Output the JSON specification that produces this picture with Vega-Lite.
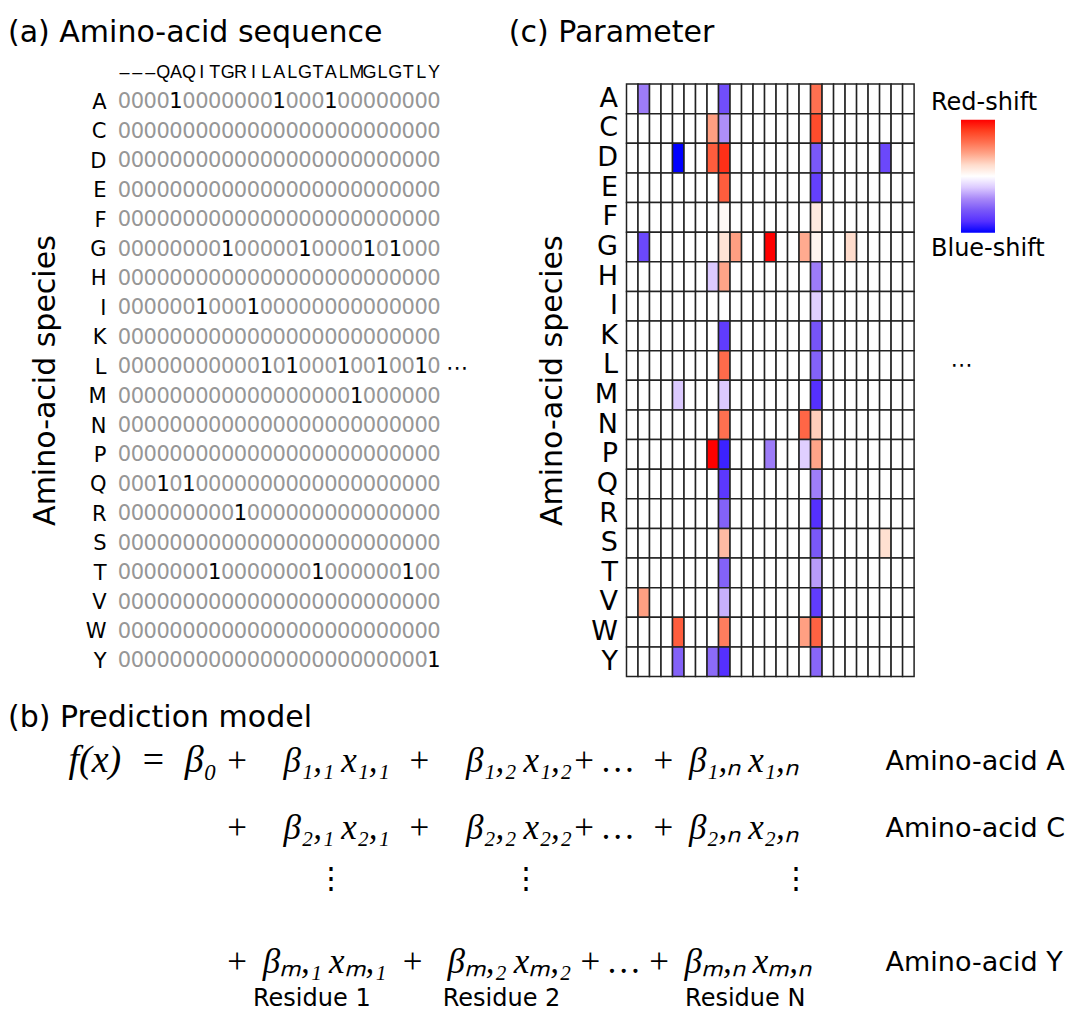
{
  "$schema": "https://vega.github.io/schema/vega-lite/v6.json",
  "background": "white",
  "autosize": {"type": "pad"},
  "padding": {"left": 8, "top": 18, "right": 0, "bottom": 0},
  "config": {
    "view": {"stroke": null},
    "font": "DejaVu Sans",
    "axis": {"domain": false, "ticks": false, "grid": false, "labelColor": "#000", "titleColor": "#000", "titleFontWeight": "normal", "labelFont": "DejaVu Sans", "titleFont": "DejaVu Sans"},
    "title": {"fontWeight": "normal", "color": "#000", "font": "DejaVu Sans"}
  },
  "datasets": {
    "seq": [
      {"c":1,"s":"–"},{"c":2,"s":"–"},{"c":3,"s":"–"},{"c":4,"s":"Q"},{"c":5,"s":"A"},{"c":6,"s":"Q"},{"c":7,"s":"I"},{"c":8,"s":"T"},{"c":9,"s":"G"},{"c":10,"s":"R"},{"c":11,"s":"I"},{"c":12,"s":"L"},{"c":13,"s":"A"},{"c":14,"s":"L"},{"c":15,"s":"G"},{"c":16,"s":"T"},{"c":17,"s":"A"},{"c":18,"s":"L"},{"c":19,"s":"M"},{"c":20,"s":"G"},{"c":21,"s":"L"},{"c":22,"s":"G"},{"c":23,"s":"T"},{"c":24,"s":"L"},{"c":25,"s":"Y"}
    ],
    "eq": [
      {"k":"l","line":"Amino-acid A","s":"plus","t":"f(x)\u2002=\u2002β₀"},
      {"k":"m","line":"Amino-acid A","s":"plus","t":"+\u2003β₁,₁\u2009x₁,₁\u2002+\u2003β₁,₂\u2009x₁,₂+\u2009…\u2002+\u2009\u2009β₁,ₙ\u2009x₁,ₙ"},
      {"k":"m","line":"Amino-acid C","s":"plus","t":"+\u2003β₂,₁\u2009x₂,₁\u2002+\u2003β₂,₂\u2009x₂,₂+\u2009…\u2002+\u2009\u2009β₂,ₙ\u2009x₂,ₙ"},
      {"k":"m","line":"Amino-acid Y","s":"plus","t":"+\u2009\u2009βₘ,₁\u2009xₘ,₁\u2009\u2009+\u2002\u2006βₘ,₂\u2009xₘ,₂\u2009+\u2009…\u2009+\u2009\u2009βₘ,ₙ\u2009xₘ,ₙ"},
      {"k":"v","line":"dots","s":"plus","t":"⋮\u2003\u2003\u2003\u2003\u2003\u2002⋮\u2003\u2003\u2003\u2003\u2003\u2003\u2003\u2003⋮"},
      {"k":"r","line":"Amino-acid Y","s":"plus","t":"Residue 1\u2003\u2003\u2003Residue 2\u2003\u2003\u2003\u2003\u2003\u2009Residue N"}
    ],
    "grid": [
      {"a":"A","c":1,"x":0,"v":0},{"a":"A","c":2,"x":0,"v":-0.45},{"a":"A","c":3,"x":0,"v":0},{"a":"A","c":4,"x":0,"v":0},{"a":"A","c":5,"x":1,"v":0},{"a":"A","c":6,"x":0,"v":0},{"a":"A","c":7,"x":0,"v":0},{"a":"A","c":8,"x":0,"v":0},{"a":"A","c":9,"x":0,"v":-0.65},{"a":"A","c":10,"x":0,"v":0},{"a":"A","c":11,"x":0,"v":0},{"a":"A","c":12,"x":0,"v":0},{"a":"A","c":13,"x":1,"v":0},{"a":"A","c":14,"x":0,"v":0},{"a":"A","c":15,"x":0,"v":0},{"a":"A","c":16,"x":0,"v":0},{"a":"A","c":17,"x":1,"v":0.6},{"a":"A","c":18,"x":0,"v":0},{"a":"A","c":19,"x":0,"v":0},{"a":"A","c":20,"x":0,"v":0},{"a":"A","c":21,"x":0,"v":0},{"a":"A","c":22,"x":0,"v":0},{"a":"A","c":23,"x":0,"v":0},{"a":"A","c":24,"x":0,"v":0},{"a":"A","c":25,"x":0,"v":0},
      {"a":"C","c":1,"x":0,"v":0},{"a":"C","c":2,"x":0,"v":0},{"a":"C","c":3,"x":0,"v":0},{"a":"C","c":4,"x":0,"v":0},{"a":"C","c":5,"x":0,"v":0},{"a":"C","c":6,"x":0,"v":0},{"a":"C","c":7,"x":0,"v":0},{"a":"C","c":8,"x":0,"v":0.42},{"a":"C","c":9,"x":0,"v":-0.38},{"a":"C","c":10,"x":0,"v":0},{"a":"C","c":11,"x":0,"v":0},{"a":"C","c":12,"x":0,"v":0},{"a":"C","c":13,"x":0,"v":0},{"a":"C","c":14,"x":0,"v":0},{"a":"C","c":15,"x":0,"v":0},{"a":"C","c":16,"x":0,"v":0},{"a":"C","c":17,"x":0,"v":0.75},{"a":"C","c":18,"x":0,"v":0},{"a":"C","c":19,"x":0,"v":0},{"a":"C","c":20,"x":0,"v":0},{"a":"C","c":21,"x":0,"v":0},{"a":"C","c":22,"x":0,"v":0},{"a":"C","c":23,"x":0,"v":0},{"a":"C","c":24,"x":0,"v":0},{"a":"C","c":25,"x":0,"v":0},
      {"a":"D","c":1,"x":0,"v":0},{"a":"D","c":2,"x":0,"v":0},{"a":"D","c":3,"x":0,"v":0},{"a":"D","c":4,"x":0,"v":0},{"a":"D","c":5,"x":0,"v":-1},{"a":"D","c":6,"x":0,"v":0},{"a":"D","c":7,"x":0,"v":0},{"a":"D","c":8,"x":0,"v":0.68},{"a":"D","c":9,"x":0,"v":0.85},{"a":"D","c":10,"x":0,"v":0},{"a":"D","c":11,"x":0,"v":0},{"a":"D","c":12,"x":0,"v":0},{"a":"D","c":13,"x":0,"v":0},{"a":"D","c":14,"x":0,"v":0},{"a":"D","c":15,"x":0,"v":0},{"a":"D","c":16,"x":0,"v":0},{"a":"D","c":17,"x":0,"v":-0.6},{"a":"D","c":18,"x":0,"v":0},{"a":"D","c":19,"x":0,"v":0},{"a":"D","c":20,"x":0,"v":0},{"a":"D","c":21,"x":0,"v":0},{"a":"D","c":22,"x":0,"v":0},{"a":"D","c":23,"x":0,"v":-0.68},{"a":"D","c":24,"x":0,"v":0},{"a":"D","c":25,"x":0,"v":0},
      {"a":"E","c":1,"x":0,"v":0},{"a":"E","c":2,"x":0,"v":0},{"a":"E","c":3,"x":0,"v":0},{"a":"E","c":4,"x":0,"v":0},{"a":"E","c":5,"x":0,"v":0},{"a":"E","c":6,"x":0,"v":0},{"a":"E","c":7,"x":0,"v":0},{"a":"E","c":8,"x":0,"v":0},{"a":"E","c":9,"x":0,"v":0.68},{"a":"E","c":10,"x":0,"v":0},{"a":"E","c":11,"x":0,"v":0},{"a":"E","c":12,"x":0,"v":0},{"a":"E","c":13,"x":0,"v":0},{"a":"E","c":14,"x":0,"v":0},{"a":"E","c":15,"x":0,"v":0},{"a":"E","c":16,"x":0,"v":0},{"a":"E","c":17,"x":0,"v":-0.72},{"a":"E","c":18,"x":0,"v":0},{"a":"E","c":19,"x":0,"v":0},{"a":"E","c":20,"x":0,"v":0},{"a":"E","c":21,"x":0,"v":0},{"a":"E","c":22,"x":0,"v":0},{"a":"E","c":23,"x":0,"v":0},{"a":"E","c":24,"x":0,"v":0},{"a":"E","c":25,"x":0,"v":0},
      {"a":"F","c":1,"x":0,"v":0},{"a":"F","c":2,"x":0,"v":0},{"a":"F","c":3,"x":0,"v":0},{"a":"F","c":4,"x":0,"v":0},{"a":"F","c":5,"x":0,"v":0},{"a":"F","c":6,"x":0,"v":0},{"a":"F","c":7,"x":0,"v":0},{"a":"F","c":8,"x":0,"v":0},{"a":"F","c":9,"x":0,"v":0.04},{"a":"F","c":10,"x":0,"v":0},{"a":"F","c":11,"x":0,"v":0},{"a":"F","c":12,"x":0,"v":0},{"a":"F","c":13,"x":0,"v":0},{"a":"F","c":14,"x":0,"v":0},{"a":"F","c":15,"x":0,"v":0},{"a":"F","c":16,"x":0,"v":0},{"a":"F","c":17,"x":0,"v":0.12},{"a":"F","c":18,"x":0,"v":0},{"a":"F","c":19,"x":0,"v":0},{"a":"F","c":20,"x":0,"v":0},{"a":"F","c":21,"x":0,"v":0},{"a":"F","c":22,"x":0,"v":0},{"a":"F","c":23,"x":0,"v":0},{"a":"F","c":24,"x":0,"v":0},{"a":"F","c":25,"x":0,"v":0},
      {"a":"G","c":1,"x":0,"v":0},{"a":"G","c":2,"x":0,"v":-0.68},{"a":"G","c":3,"x":0,"v":0},{"a":"G","c":4,"x":0,"v":0},{"a":"G","c":5,"x":0,"v":0},{"a":"G","c":6,"x":0,"v":0},{"a":"G","c":7,"x":0,"v":0},{"a":"G","c":8,"x":0,"v":0},{"a":"G","c":9,"x":1,"v":0.16},{"a":"G","c":10,"x":0,"v":0.42},{"a":"G","c":11,"x":0,"v":0},{"a":"G","c":12,"x":0,"v":0},{"a":"G","c":13,"x":0,"v":1},{"a":"G","c":14,"x":0,"v":0},{"a":"G","c":15,"x":1,"v":0},{"a":"G","c":16,"x":0,"v":0.38},{"a":"G","c":17,"x":0,"v":0.06},{"a":"G","c":18,"x":0,"v":0},{"a":"G","c":19,"x":0,"v":0},{"a":"G","c":20,"x":1,"v":0.2},{"a":"G","c":21,"x":0,"v":0},{"a":"G","c":22,"x":1,"v":0},{"a":"G","c":23,"x":0,"v":0},{"a":"G","c":24,"x":0,"v":0},{"a":"G","c":25,"x":0,"v":0},
      {"a":"H","c":1,"x":0,"v":0},{"a":"H","c":2,"x":0,"v":0},{"a":"H","c":3,"x":0,"v":0},{"a":"H","c":4,"x":0,"v":0},{"a":"H","c":5,"x":0,"v":0},{"a":"H","c":6,"x":0,"v":0},{"a":"H","c":7,"x":0,"v":0},{"a":"H","c":8,"x":0,"v":-0.2},{"a":"H","c":9,"x":0,"v":0.4},{"a":"H","c":10,"x":0,"v":0},{"a":"H","c":11,"x":0,"v":0},{"a":"H","c":12,"x":0,"v":0},{"a":"H","c":13,"x":0,"v":0},{"a":"H","c":14,"x":0,"v":0},{"a":"H","c":15,"x":0,"v":0},{"a":"H","c":16,"x":0,"v":0},{"a":"H","c":17,"x":0,"v":-0.45},{"a":"H","c":18,"x":0,"v":0},{"a":"H","c":19,"x":0,"v":0},{"a":"H","c":20,"x":0,"v":0},{"a":"H","c":21,"x":0,"v":0},{"a":"H","c":22,"x":0,"v":0},{"a":"H","c":23,"x":0,"v":0},{"a":"H","c":24,"x":0,"v":0},{"a":"H","c":25,"x":0,"v":0},
      {"a":"I","c":1,"x":0,"v":0},{"a":"I","c":2,"x":0,"v":0},{"a":"I","c":3,"x":0,"v":0},{"a":"I","c":4,"x":0,"v":0},{"a":"I","c":5,"x":0,"v":0},{"a":"I","c":6,"x":0,"v":0},{"a":"I","c":7,"x":1,"v":0},{"a":"I","c":8,"x":0,"v":0},{"a":"I","c":9,"x":0,"v":0},{"a":"I","c":10,"x":0,"v":0},{"a":"I","c":11,"x":1,"v":0},{"a":"I","c":12,"x":0,"v":0},{"a":"I","c":13,"x":0,"v":0},{"a":"I","c":14,"x":0,"v":0},{"a":"I","c":15,"x":0,"v":0},{"a":"I","c":16,"x":0,"v":0},{"a":"I","c":17,"x":0,"v":-0.18},{"a":"I","c":18,"x":0,"v":0},{"a":"I","c":19,"x":0,"v":0},{"a":"I","c":20,"x":0,"v":0},{"a":"I","c":21,"x":0,"v":0},{"a":"I","c":22,"x":0,"v":0},{"a":"I","c":23,"x":0,"v":0},{"a":"I","c":24,"x":0,"v":0},{"a":"I","c":25,"x":0,"v":0},
      {"a":"K","c":1,"x":0,"v":0},{"a":"K","c":2,"x":0,"v":0},{"a":"K","c":3,"x":0,"v":0},{"a":"K","c":4,"x":0,"v":0},{"a":"K","c":5,"x":0,"v":0},{"a":"K","c":6,"x":0,"v":0},{"a":"K","c":7,"x":0,"v":0},{"a":"K","c":8,"x":0,"v":0},{"a":"K","c":9,"x":0,"v":-0.74},{"a":"K","c":10,"x":0,"v":0},{"a":"K","c":11,"x":0,"v":0},{"a":"K","c":12,"x":0,"v":0},{"a":"K","c":13,"x":0,"v":0},{"a":"K","c":14,"x":0,"v":0},{"a":"K","c":15,"x":0,"v":0},{"a":"K","c":16,"x":0,"v":0},{"a":"K","c":17,"x":0,"v":-0.62},{"a":"K","c":18,"x":0,"v":0},{"a":"K","c":19,"x":0,"v":0},{"a":"K","c":20,"x":0,"v":0},{"a":"K","c":21,"x":0,"v":0},{"a":"K","c":22,"x":0,"v":0},{"a":"K","c":23,"x":0,"v":0},{"a":"K","c":24,"x":0,"v":0},{"a":"K","c":25,"x":0,"v":0},
      {"a":"L","c":1,"x":0,"v":0},{"a":"L","c":2,"x":0,"v":0},{"a":"L","c":3,"x":0,"v":0},{"a":"L","c":4,"x":0,"v":0},{"a":"L","c":5,"x":0,"v":0},{"a":"L","c":6,"x":0,"v":0},{"a":"L","c":7,"x":0,"v":0},{"a":"L","c":8,"x":0,"v":0},{"a":"L","c":9,"x":0,"v":0.62},{"a":"L","c":10,"x":0,"v":0},{"a":"L","c":11,"x":0,"v":0},{"a":"L","c":12,"x":1,"v":0},{"a":"L","c":13,"x":0,"v":0},{"a":"L","c":14,"x":1,"v":0},{"a":"L","c":15,"x":0,"v":0},{"a":"L","c":16,"x":0,"v":0},{"a":"L","c":17,"x":0,"v":-0.56},{"a":"L","c":18,"x":1,"v":0},{"a":"L","c":19,"x":0,"v":0},{"a":"L","c":20,"x":0,"v":0},{"a":"L","c":21,"x":1,"v":0},{"a":"L","c":22,"x":0,"v":0},{"a":"L","c":23,"x":0,"v":0},{"a":"L","c":24,"x":1,"v":0},{"a":"L","c":25,"x":0,"v":0},
      {"a":"M","c":1,"x":0,"v":0},{"a":"M","c":2,"x":0,"v":0},{"a":"M","c":3,"x":0,"v":0},{"a":"M","c":4,"x":0,"v":0},{"a":"M","c":5,"x":0,"v":-0.2},{"a":"M","c":6,"x":0,"v":0},{"a":"M","c":7,"x":0,"v":0},{"a":"M","c":8,"x":0,"v":0},{"a":"M","c":9,"x":0,"v":-0.2},{"a":"M","c":10,"x":0,"v":0},{"a":"M","c":11,"x":0,"v":0},{"a":"M","c":12,"x":0,"v":0},{"a":"M","c":13,"x":0,"v":0},{"a":"M","c":14,"x":0,"v":0},{"a":"M","c":15,"x":0,"v":0},{"a":"M","c":16,"x":0,"v":0},{"a":"M","c":17,"x":0,"v":-0.8},{"a":"M","c":18,"x":0,"v":0},{"a":"M","c":19,"x":1,"v":0},{"a":"M","c":20,"x":0,"v":0},{"a":"M","c":21,"x":0,"v":0},{"a":"M","c":22,"x":0,"v":0},{"a":"M","c":23,"x":0,"v":0},{"a":"M","c":24,"x":0,"v":0},{"a":"M","c":25,"x":0,"v":0},
      {"a":"N","c":1,"x":0,"v":0},{"a":"N","c":2,"x":0,"v":0},{"a":"N","c":3,"x":0,"v":0},{"a":"N","c":4,"x":0,"v":0},{"a":"N","c":5,"x":0,"v":0},{"a":"N","c":6,"x":0,"v":0},{"a":"N","c":7,"x":0,"v":0},{"a":"N","c":8,"x":0,"v":0},{"a":"N","c":9,"x":0,"v":0.6},{"a":"N","c":10,"x":0,"v":0},{"a":"N","c":11,"x":0,"v":0},{"a":"N","c":12,"x":0,"v":0},{"a":"N","c":13,"x":0,"v":0},{"a":"N","c":14,"x":0,"v":0},{"a":"N","c":15,"x":0,"v":0},{"a":"N","c":16,"x":0,"v":0.64},{"a":"N","c":17,"x":0,"v":0.25},{"a":"N","c":18,"x":0,"v":0},{"a":"N","c":19,"x":0,"v":0},{"a":"N","c":20,"x":0,"v":0},{"a":"N","c":21,"x":0,"v":0},{"a":"N","c":22,"x":0,"v":0},{"a":"N","c":23,"x":0,"v":0},{"a":"N","c":24,"x":0,"v":0},{"a":"N","c":25,"x":0,"v":0},
      {"a":"P","c":1,"x":0,"v":0},{"a":"P","c":2,"x":0,"v":0},{"a":"P","c":3,"x":0,"v":0},{"a":"P","c":4,"x":0,"v":0},{"a":"P","c":5,"x":0,"v":0},{"a":"P","c":6,"x":0,"v":0},{"a":"P","c":7,"x":0,"v":0},{"a":"P","c":8,"x":0,"v":1},{"a":"P","c":9,"x":0,"v":-0.86},{"a":"P","c":10,"x":0,"v":0},{"a":"P","c":11,"x":0,"v":0},{"a":"P","c":12,"x":0,"v":0},{"a":"P","c":13,"x":0,"v":-0.45},{"a":"P","c":14,"x":0,"v":0},{"a":"P","c":15,"x":0,"v":0},{"a":"P","c":16,"x":0,"v":-0.18},{"a":"P","c":17,"x":0,"v":0.4},{"a":"P","c":18,"x":0,"v":0},{"a":"P","c":19,"x":0,"v":0},{"a":"P","c":20,"x":0,"v":0},{"a":"P","c":21,"x":0,"v":0},{"a":"P","c":22,"x":0,"v":0},{"a":"P","c":23,"x":0,"v":0},{"a":"P","c":24,"x":0,"v":0},{"a":"P","c":25,"x":0,"v":0},
      {"a":"Q","c":1,"x":0,"v":0},{"a":"Q","c":2,"x":0,"v":0},{"a":"Q","c":3,"x":0,"v":0},{"a":"Q","c":4,"x":1,"v":0},{"a":"Q","c":5,"x":0,"v":0},{"a":"Q","c":6,"x":1,"v":0},{"a":"Q","c":7,"x":0,"v":0},{"a":"Q","c":8,"x":0,"v":0},{"a":"Q","c":9,"x":0,"v":-0.76},{"a":"Q","c":10,"x":0,"v":0},{"a":"Q","c":11,"x":0,"v":0},{"a":"Q","c":12,"x":0,"v":0},{"a":"Q","c":13,"x":0,"v":0},{"a":"Q","c":14,"x":0,"v":0},{"a":"Q","c":15,"x":0,"v":0},{"a":"Q","c":16,"x":0,"v":0},{"a":"Q","c":17,"x":0,"v":-0.44},{"a":"Q","c":18,"x":0,"v":0},{"a":"Q","c":19,"x":0,"v":0},{"a":"Q","c":20,"x":0,"v":0},{"a":"Q","c":21,"x":0,"v":0},{"a":"Q","c":22,"x":0,"v":0},{"a":"Q","c":23,"x":0,"v":0},{"a":"Q","c":24,"x":0,"v":0},{"a":"Q","c":25,"x":0,"v":0},
      {"a":"R","c":1,"x":0,"v":0},{"a":"R","c":2,"x":0,"v":0},{"a":"R","c":3,"x":0,"v":0},{"a":"R","c":4,"x":0,"v":0},{"a":"R","c":5,"x":0,"v":0},{"a":"R","c":6,"x":0,"v":0},{"a":"R","c":7,"x":0,"v":0},{"a":"R","c":8,"x":0,"v":0},{"a":"R","c":9,"x":0,"v":-0.56},{"a":"R","c":10,"x":1,"v":0},{"a":"R","c":11,"x":0,"v":0},{"a":"R","c":12,"x":0,"v":0},{"a":"R","c":13,"x":0,"v":0},{"a":"R","c":14,"x":0,"v":0},{"a":"R","c":15,"x":0,"v":0},{"a":"R","c":16,"x":0,"v":0},{"a":"R","c":17,"x":0,"v":-0.8},{"a":"R","c":18,"x":0,"v":0},{"a":"R","c":19,"x":0,"v":0},{"a":"R","c":20,"x":0,"v":0},{"a":"R","c":21,"x":0,"v":0},{"a":"R","c":22,"x":0,"v":0},{"a":"R","c":23,"x":0,"v":0},{"a":"R","c":24,"x":0,"v":0},{"a":"R","c":25,"x":0,"v":0},
      {"a":"S","c":1,"x":0,"v":0},{"a":"S","c":2,"x":0,"v":0},{"a":"S","c":3,"x":0,"v":0},{"a":"S","c":4,"x":0,"v":0},{"a":"S","c":5,"x":0,"v":0},{"a":"S","c":6,"x":0,"v":0},{"a":"S","c":7,"x":0,"v":0},{"a":"S","c":8,"x":0,"v":0},{"a":"S","c":9,"x":0,"v":0.32},{"a":"S","c":10,"x":0,"v":0},{"a":"S","c":11,"x":0,"v":0},{"a":"S","c":12,"x":0,"v":0},{"a":"S","c":13,"x":0,"v":0},{"a":"S","c":14,"x":0,"v":0},{"a":"S","c":15,"x":0,"v":0},{"a":"S","c":16,"x":0,"v":0},{"a":"S","c":17,"x":0,"v":-0.6},{"a":"S","c":18,"x":0,"v":0},{"a":"S","c":19,"x":0,"v":0},{"a":"S","c":20,"x":0,"v":0},{"a":"S","c":21,"x":0,"v":0},{"a":"S","c":22,"x":0,"v":0},{"a":"S","c":23,"x":0,"v":0.18},{"a":"S","c":24,"x":0,"v":0},{"a":"S","c":25,"x":0,"v":0},
      {"a":"T","c":1,"x":0,"v":0},{"a":"T","c":2,"x":0,"v":0},{"a":"T","c":3,"x":0,"v":0},{"a":"T","c":4,"x":0,"v":0},{"a":"T","c":5,"x":0,"v":0},{"a":"T","c":6,"x":0,"v":0},{"a":"T","c":7,"x":0,"v":0},{"a":"T","c":8,"x":1,"v":0},{"a":"T","c":9,"x":0,"v":-0.56},{"a":"T","c":10,"x":0,"v":0},{"a":"T","c":11,"x":0,"v":0},{"a":"T","c":12,"x":0,"v":0},{"a":"T","c":13,"x":0,"v":0},{"a":"T","c":14,"x":0,"v":0},{"a":"T","c":15,"x":0,"v":0},{"a":"T","c":16,"x":1,"v":0},{"a":"T","c":17,"x":0,"v":-0.34},{"a":"T","c":18,"x":0,"v":0},{"a":"T","c":19,"x":0,"v":0},{"a":"T","c":20,"x":0,"v":0},{"a":"T","c":21,"x":0,"v":0},{"a":"T","c":22,"x":0,"v":0},{"a":"T","c":23,"x":1,"v":0},{"a":"T","c":24,"x":0,"v":0},{"a":"T","c":25,"x":0,"v":0},
      {"a":"V","c":1,"x":0,"v":0},{"a":"V","c":2,"x":0,"v":0.42},{"a":"V","c":3,"x":0,"v":0},{"a":"V","c":4,"x":0,"v":0},{"a":"V","c":5,"x":0,"v":0},{"a":"V","c":6,"x":0,"v":0},{"a":"V","c":7,"x":0,"v":0},{"a":"V","c":8,"x":0,"v":0},{"a":"V","c":9,"x":0,"v":-0.28},{"a":"V","c":10,"x":0,"v":0},{"a":"V","c":11,"x":0,"v":0},{"a":"V","c":12,"x":0,"v":0},{"a":"V","c":13,"x":0,"v":0},{"a":"V","c":14,"x":0,"v":0},{"a":"V","c":15,"x":0,"v":0},{"a":"V","c":16,"x":0,"v":0},{"a":"V","c":17,"x":0,"v":-0.74},{"a":"V","c":18,"x":0,"v":0},{"a":"V","c":19,"x":0,"v":0},{"a":"V","c":20,"x":0,"v":0},{"a":"V","c":21,"x":0,"v":0},{"a":"V","c":22,"x":0,"v":0},{"a":"V","c":23,"x":0,"v":0},{"a":"V","c":24,"x":0,"v":0},{"a":"V","c":25,"x":0,"v":0},
      {"a":"W","c":1,"x":0,"v":0},{"a":"W","c":2,"x":0,"v":0},{"a":"W","c":3,"x":0,"v":0},{"a":"W","c":4,"x":0,"v":0},{"a":"W","c":5,"x":0,"v":0.68},{"a":"W","c":6,"x":0,"v":0},{"a":"W","c":7,"x":0,"v":0},{"a":"W","c":8,"x":0,"v":0},{"a":"W","c":9,"x":0,"v":0.55},{"a":"W","c":10,"x":0,"v":0},{"a":"W","c":11,"x":0,"v":0},{"a":"W","c":12,"x":0,"v":0},{"a":"W","c":13,"x":0,"v":0},{"a":"W","c":14,"x":0,"v":0},{"a":"W","c":15,"x":0,"v":0},{"a":"W","c":16,"x":0,"v":0.42},{"a":"W","c":17,"x":0,"v":0.66},{"a":"W","c":18,"x":0,"v":0},{"a":"W","c":19,"x":0,"v":0},{"a":"W","c":20,"x":0,"v":0},{"a":"W","c":21,"x":0,"v":0},{"a":"W","c":22,"x":0,"v":0},{"a":"W","c":23,"x":0,"v":0},{"a":"W","c":24,"x":0,"v":0},{"a":"W","c":25,"x":0,"v":0},
      {"a":"Y","c":1,"x":0,"v":0},{"a":"Y","c":2,"x":0,"v":0},{"a":"Y","c":3,"x":0,"v":0},{"a":"Y","c":4,"x":0,"v":0},{"a":"Y","c":5,"x":0,"v":-0.56},{"a":"Y","c":6,"x":0,"v":0},{"a":"Y","c":7,"x":0,"v":0},{"a":"Y","c":8,"x":0,"v":-0.52},{"a":"Y","c":9,"x":0,"v":-0.8},{"a":"Y","c":10,"x":0,"v":0},{"a":"Y","c":11,"x":0,"v":0},{"a":"Y","c":12,"x":0,"v":0},{"a":"Y","c":13,"x":0,"v":0},{"a":"Y","c":14,"x":0,"v":0},{"a":"Y","c":15,"x":0,"v":0},{"a":"Y","c":16,"x":0,"v":0},{"a":"Y","c":17,"x":0,"v":-0.54},{"a":"Y","c":18,"x":0,"v":0},{"a":"Y","c":19,"x":0,"v":0},{"a":"Y","c":20,"x":0,"v":0},{"a":"Y","c":21,"x":0,"v":0},{"a":"Y","c":22,"x":0,"v":0},{"a":"Y","c":23,"x":0,"v":0},{"a":"Y","c":24,"x":0,"v":0},{"a":"Y","c":25,"x":1,"v":0}
    ]
  },
  "vconcat": [
    {
      "hconcat": [
        {
          "width": 322.5,
          "height": 592.1,
          "title": {"text": "(a) Amino-acid sequence", "anchor": "start", "frame": "group", "dx": -110, "offset": -8.2, "baseline": "alphabetic", "fontSize": 30},
          "layer": [
            {
              "data": {"name": "grid"},
              "mark": {"type": "text", "fontSize": 21, "baseline": "middle", "font": "DejaVu Sans"},
              "encoding": {
                "x": {"field": "c", "type": "ordinal", "scale": {"type": "point", "padding": 0.5}, "axis": null},
                "y": {"field": "a", "type": "nominal", "scale": {"type": "point", "padding": 0.5626, "align": 0.556}, "axis": {"orient": "left", "labelFontSize": 21, "labelPadding": 12, "title": "Amino-acid species", "titleFontSize": 30, "titlePadding": 25}},
                "text": {"field": "x", "type": "nominal"},
                "color": {"condition": {"test": "datum.x == 1", "value": "#000000"}, "value": "#969696"}
              }
            },
            {
              "data": {"name": "seq"},
              "mark": {"type": "text", "fontSize": 18, "baseline": "middle", "font": "Liberation Sans Narrow, Liberation Sans", "dy": -29.4, "color": "#000"},
              "encoding": {
                "x": {"field": "c", "type": "ordinal", "scale": {"type": "point", "padding": 0.5}, "axis": null},
                "y": {"datum": "A", "type": "nominal", "axis": {"orient": "right", "labelFontSize": 22, "labelPadding": 5, "labelExpr": "datum.value == 'L' ? '⋯' : ''", "title": null}},
                "text": {"field": "s", "type": "nominal"}
              }
            }
          ],
          "resolve": {"axis": {"y": "independent"}}
        },
        {
          "width": 287.6,
          "height": 592.5,
          "title": {"text": "(c) Parameter", "anchor": "start", "frame": "group", "dx": -117.7, "offset": 11.2, "baseline": "alphabetic", "fontSize": 30},
          "data": {"name": "grid"},
          "layer": [
            {
              "mark": {"type": "rect", "stroke": "#222222", "strokeWidth": 1.5},
              "encoding": {
                "x": {"field": "c", "type": "ordinal", "scale": {"type": "band", "paddingInner": 0, "paddingOuter": 0}, "axis": null},
                "y": {"field": "a", "type": "nominal", "scale": {"type": "band", "paddingInner": 0, "paddingOuter": 0}, "axis": {"orient": "left", "labelFontSize": 27, "labelPadding": 9, "title": "Amino-acid species", "titleFontSize": 30, "titlePadding": 23}},
                "color": {
                  "field": "v", "type": "quantitative",
                  "scale": {"domain": [-1, -0.8, -0.6, -0.4, -0.2, 0, 0.2, 0.4, 0.6, 0.8, 1], "range": ["#0000ff", "#5530ff", "#7a58f8", "#a888f8", "#dccaff", "#ffffff", "#ffdccc", "#ffa488", "#ff7050", "#ff4020", "#ff0000"], "interpolate": "rgb"},
                  "legend": {"orient": "none", "legendX": 843, "legendY": 35.7, "direction": "vertical", "title": null, "gradientLength": 113, "gradientThickness": 34, "gradientStrokeWidth": 0, "values": [-1.5, 1.5], "labelExpr": "datum.value < 0 ? 'Blue-shift' : 'Red-shift'", "labelFontSize": 24, "labelFont": "DejaVu Sans", "labelColor": "#000", "labelOffset": -64, "labelOverlap": false}
                }
              }
            },
            {
              "mark": {"type": "rect", "opacity": 0},
              "encoding": {
                "x": {"field": "c", "type": "ordinal", "axis": null},
                "y": {"field": "a", "type": "nominal", "axis": {"orient": "right", "labelFontSize": 22, "labelPadding": 36, "labelExpr": "datum.value == 'L' ? '⋯' : ''", "title": null}}
              }
            }
          ],
          "resolve": {"axis": {"y": "independent"}}
        }
      ],
      "spacing": 40.5
    },
    {
      "width": 214,
      "height": 201,
      "title": {"text": "(b) Prediction model", "anchor": "start", "frame": "group", "dx": -110, "offset": -15, "baseline": "alphabetic", "fontSize": 30},
      "data": {"name": "eq"},
      "layer": [
        {
          "transform": [{"filter": "datum.k == 'm'"}],
          "mark": {"type": "text", "align": "left", "baseline": "middle", "font": "Liberation Serif", "fontStyle": "italic", "fontSize": 35},
          "encoding": {
            "x": {"field": "s", "type": "nominal", "scale": {"type": "point", "domain": ["plus"], "padding": 0.5}, "axis": null},
            "y": {"field": "line", "type": "nominal", "scale": {"type": "point", "domain": ["Amino-acid A", "Amino-acid C", "dots", "Amino-acid Y"], "padding": 0}, "axis": {"orient": "right", "labelFontSize": 27, "labelPadding": 553, "labelAlign": "left", "labelExpr": "datum.value == 'dots' ? '' : datum.value", "title": null}},
            "text": {"field": "t", "type": "nominal"}
          }
        },
        {
          "transform": [{"filter": "datum.k == 'l'"}],
          "mark": {"type": "text", "align": "right", "baseline": "middle", "font": "Liberation Serif", "fontStyle": "italic", "fontSize": 38, "dx": -8},
          "encoding": {
            "x": {"field": "s", "type": "nominal"},
            "y": {"field": "line", "type": "nominal"},
            "text": {"field": "t", "type": "nominal"}
          }
        },
        {
          "transform": [{"filter": "datum.k == 'v'"}],
          "mark": {"type": "text", "align": "left", "baseline": "middle", "font": "DejaVu Serif", "fontSize": 30, "dx": 91, "dy": -16},
          "encoding": {
            "x": {"field": "s", "type": "nominal"},
            "y": {"field": "line", "type": "nominal"},
            "text": {"field": "t", "type": "nominal"}
          }
        },
        {
          "transform": [{"filter": "datum.k == 'r'"}],
          "mark": {"type": "text", "align": "left", "baseline": "middle", "font": "DejaVu Sans", "fontSize": 24, "dx": 28, "dy": 37},
          "encoding": {
            "x": {"field": "s", "type": "nominal"},
            "y": {"field": "line", "type": "nominal"},
            "text": {"field": "t", "type": "nominal"}
          }
        }
      ]
    }
  ],
  "spacing": 25
}
